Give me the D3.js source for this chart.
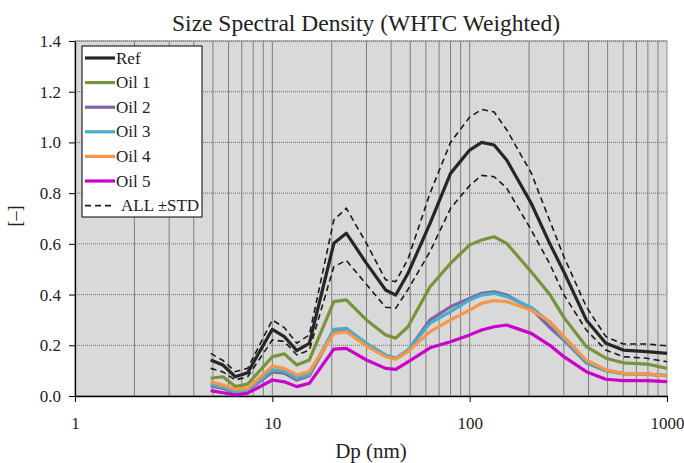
<!DOCTYPE html>
<html>
<head>
<meta charset="utf-8">
<script src="https://cdn.jsdelivr.net/npm/d3@7"></script>
<style>
  body { margin: 0; background: #fff; }
  text { font-family: "Liberation Serif", "DejaVu Serif", serif; fill: #222; }
</style>
</head>
<body>
<div id="chart"></div>
<script>
const width = 684;
const height = 463;
const margin = { top: 41, right: 17, bottom: 67, left: 75 };

// particle diameters (nm)
const dp = [4.87, 5.62, 6.49, 7.5, 10, 11.5, 13.3, 15.4, 20.5, 23.7, 30, 37.5, 42.2, 48.7, 63, 80,
            100, 115, 133, 154, 205, 255, 300, 390, 490, 600, 790, 1000];

const ref  = [0.142, 0.122, 0.076, 0.092, 0.263, 0.234, 0.179, 0.208, 0.602, 0.642, 0.523, 0.418, 0.398, 0.484, 0.681, 0.878,
              0.970, 1.000, 0.990, 0.931, 0.760, 0.600, 0.490, 0.300, 0.208, 0.181, 0.175, 0.168];
const stdUp = [0.168, 0.140, 0.096, 0.109, 0.300, 0.270, 0.208, 0.241, 0.694, 0.740, 0.602, 0.458, 0.451, 0.540, 0.800, 1.000,
               1.100, 1.130, 1.120, 1.050, 0.880, 0.690, 0.550, 0.352, 0.234, 0.205, 0.205, 0.198];
const stdLo = [0.109, 0.095, 0.063, 0.076, 0.221, 0.215, 0.162, 0.181, 0.510, 0.535, 0.440, 0.350, 0.346, 0.420, 0.570, 0.740,
               0.830, 0.870, 0.865, 0.820, 0.655, 0.520, 0.400, 0.260, 0.181, 0.155, 0.149, 0.135];
const oil1 = [0.070, 0.076, 0.037, 0.047, 0.155, 0.166, 0.122, 0.142, 0.372, 0.379, 0.300, 0.241, 0.228, 0.273, 0.431, 0.523,
              0.596, 0.615, 0.628, 0.602, 0.490, 0.400, 0.310, 0.195, 0.149, 0.131, 0.126, 0.109];
const oil2 = [0.040, 0.030, 0.012, 0.020, 0.095, 0.090, 0.063, 0.080, 0.255, 0.260, 0.205, 0.160, 0.148, 0.180, 0.300, 0.352,
              0.385, 0.405, 0.411, 0.398, 0.345, 0.270, 0.221, 0.131, 0.100, 0.088, 0.086, 0.080];
const oil3 = [0.045, 0.035, 0.015, 0.022, 0.103, 0.098, 0.070, 0.085, 0.263, 0.267, 0.208, 0.162, 0.149, 0.181, 0.287, 0.333,
              0.379, 0.398, 0.405, 0.392, 0.350, 0.290, 0.225, 0.135, 0.100, 0.088, 0.086, 0.080];
const oil4 = [0.056, 0.043, 0.026, 0.030, 0.118, 0.109, 0.083, 0.096, 0.247, 0.254, 0.197, 0.155, 0.145, 0.175, 0.254, 0.300,
              0.339, 0.366, 0.376, 0.372, 0.339, 0.293, 0.234, 0.142, 0.103, 0.089, 0.087, 0.079];
const oil5 = [0.021, 0.013, 0.004, 0.011, 0.063, 0.056, 0.037, 0.050, 0.185, 0.188, 0.142, 0.109, 0.105, 0.135, 0.190, 0.214,
              0.241, 0.260, 0.273, 0.280, 0.247, 0.200, 0.155, 0.096, 0.066, 0.061, 0.061, 0.057];

const seriesNames = ["Ref", "Oil 1", "Oil 2", "Oil 3", "Oil 4", "Oil 5"];
const seriesColors = ["#262626", "#77933c", "#8064a2", "#4bacc6", "#f79646", "#cc00cc"];
const seriesValues = [ref, oil1, oil2, oil3, oil4, oil5];
const stdLabel = "ALL \u00b1STD";

const yTicks = [0, 0.2, 0.4, 0.6, 0.8, 1.0, 1.2, 1.4];
const xTicks = [1, 10, 100, 1000];

const svg = d3.select("#chart")
    .append("svg")
    .attr("width", width)
    .attr("height", height);

const x = d3.scaleLog()
    .domain([1, 1000])
    .range([margin.left, width - margin.right]);

const y = d3.scaleLinear()
    .domain([0, 1.4])
    .range([height - margin.bottom, margin.top]);

// plot background
svg.append("rect")
    .attr("x", x(1))
    .attr("y", y(1.4))
    .attr("width", x(1000) - x(1))
    .attr("height", y(0) - y(1.4))
    .attr("fill", "#d9d9d9")
    .attr("stroke", "#8c8c8c")
    .attr("stroke-width", 1);

// vertical grid at every minor log tick
const vLines = [];
[1, 10, 100].forEach(d => {
    for (let k = 1; k <= 9; k++) if (d * k > 1) vLines.push(d * k);
});
svg.append("g")
    .selectAll("line")
    .data(vLines)
    .enter()
    .append("line")
    .attr("x1", d => x(d))
    .attr("x2", d => x(d))
    .attr("y1", y(1.4))
    .attr("y2", y(0))
    .attr("stroke", "#7f7f7f")
    .attr("stroke-width", 1);

// horizontal grid
svg.append("g")
    .selectAll("line")
    .data(yTicks.filter(d => d > 0))
    .enter()
    .append("line")
    .attr("x1", x(1))
    .attr("x2", x(1000))
    .attr("y1", d => y(d))
    .attr("y2", d => y(d))
    .attr("stroke", "#6e6e6e")
    .attr("stroke-width", 1)
    .attr("stroke-dasharray", "1,1");

// axes
const yAxis = d3.axisLeft(y)
    .tickValues(yTicks)
    .tickFormat(d3.format(".1f"))
    .tickSize(6)
    .tickSizeOuter(0)
    .tickPadding(8);

const gy = svg.append("g")
    .attr("transform", `translate(${x(1)},0)`)
    .call(yAxis);
gy.select(".domain").attr("stroke", "#000").attr("stroke-width", 1.3);
gy.selectAll("text").style("font-size", "17px").style("font-family", "Liberation Serif, serif").attr("fill", "#333");

const xAxis = d3.axisBottom(x)
    .tickValues(xTicks)
    .tickFormat(d3.format("d"))
    .tickSize(6)
    .tickSizeOuter(0)
    .tickPadding(15);

const gx = svg.append("g")
    .attr("transform", `translate(0,${y(0)})`)
    .call(xAxis);
gx.select(".domain").attr("stroke", "#000").attr("stroke-width", 1.3);
gx.selectAll("text").style("font-size", "17px").style("font-family", "Liberation Serif, serif").attr("fill", "#333");

// series lines
const line = d3.line()
    .x((d, i) => x(dp[i]))
    .y(d => y(d));

const drawOrder = [1, 2, 3, 4, 5, 0];
drawOrder.forEach(i => {
    svg.append("path")
        .datum(seriesValues[i])
        .attr("fill", "none")
        .attr("stroke", seriesColors[i])
        .attr("stroke-width", 3.2)
        .attr("stroke-linejoin", "round")
        .attr("d", line);
});

[stdUp, stdLo].forEach(vals => {
    svg.append("path")
        .datum(vals)
        .attr("fill", "none")
        .attr("stroke", "#1a1a1a")
        .attr("stroke-width", 1.6)
        .attr("stroke-dasharray", "6,4")
        .attr("d", line);
});

// legend
const legend = svg.append("g").attr("transform", "translate(82,46)");
legend.append("rect")
    .attr("width", 120)
    .attr("height", 171)
    .attr("fill", "#fff")
    .attr("stroke", "#000")
    .attr("stroke-width", 1);

const legendItems = seriesNames.map((n, i) => ({ name: n, color: seriesColors[i], dash: null }))
    .concat([{ name: stdLabel, color: "#1a1a1a", dash: "6,4" }]);

legendItems.forEach((d, i) => {
    const ly = 12 + i * 24.6;
    legend.append("line")
        .attr("x1", 3)
        .attr("x2", 33)
        .attr("y1", ly)
        .attr("y2", ly)
        .attr("stroke", d.color)
        .attr("stroke-width", d.dash ? 1.6 : 3.2)
        .attr("stroke-dasharray", d.dash);
    legend.append("text")
        .attr("x", d.dash ? 39 : 34)
        .attr("y", ly + 5.5)
        .style("font-size", "17px")
        .text(d.name);
});

// titles
svg.append("text")
    .attr("x", 366)
    .attr("y", 31)
    .attr("text-anchor", "middle")
    .style("font-size", "23.5px")
    .text("Size Spectral Density (WHTC Weighted)");

svg.append("text")
    .attr("x", 371)
    .attr("y", 458)
    .attr("text-anchor", "middle")
    .style("font-size", "21px")
    .text("Dp (nm)");

svg.append("text")
    .attr("transform", "translate(21,216) rotate(-90)")
    .attr("text-anchor", "middle")
    .style("font-size", "18px")
    .text("[\u2013]");
</script>
</body>
</html>
